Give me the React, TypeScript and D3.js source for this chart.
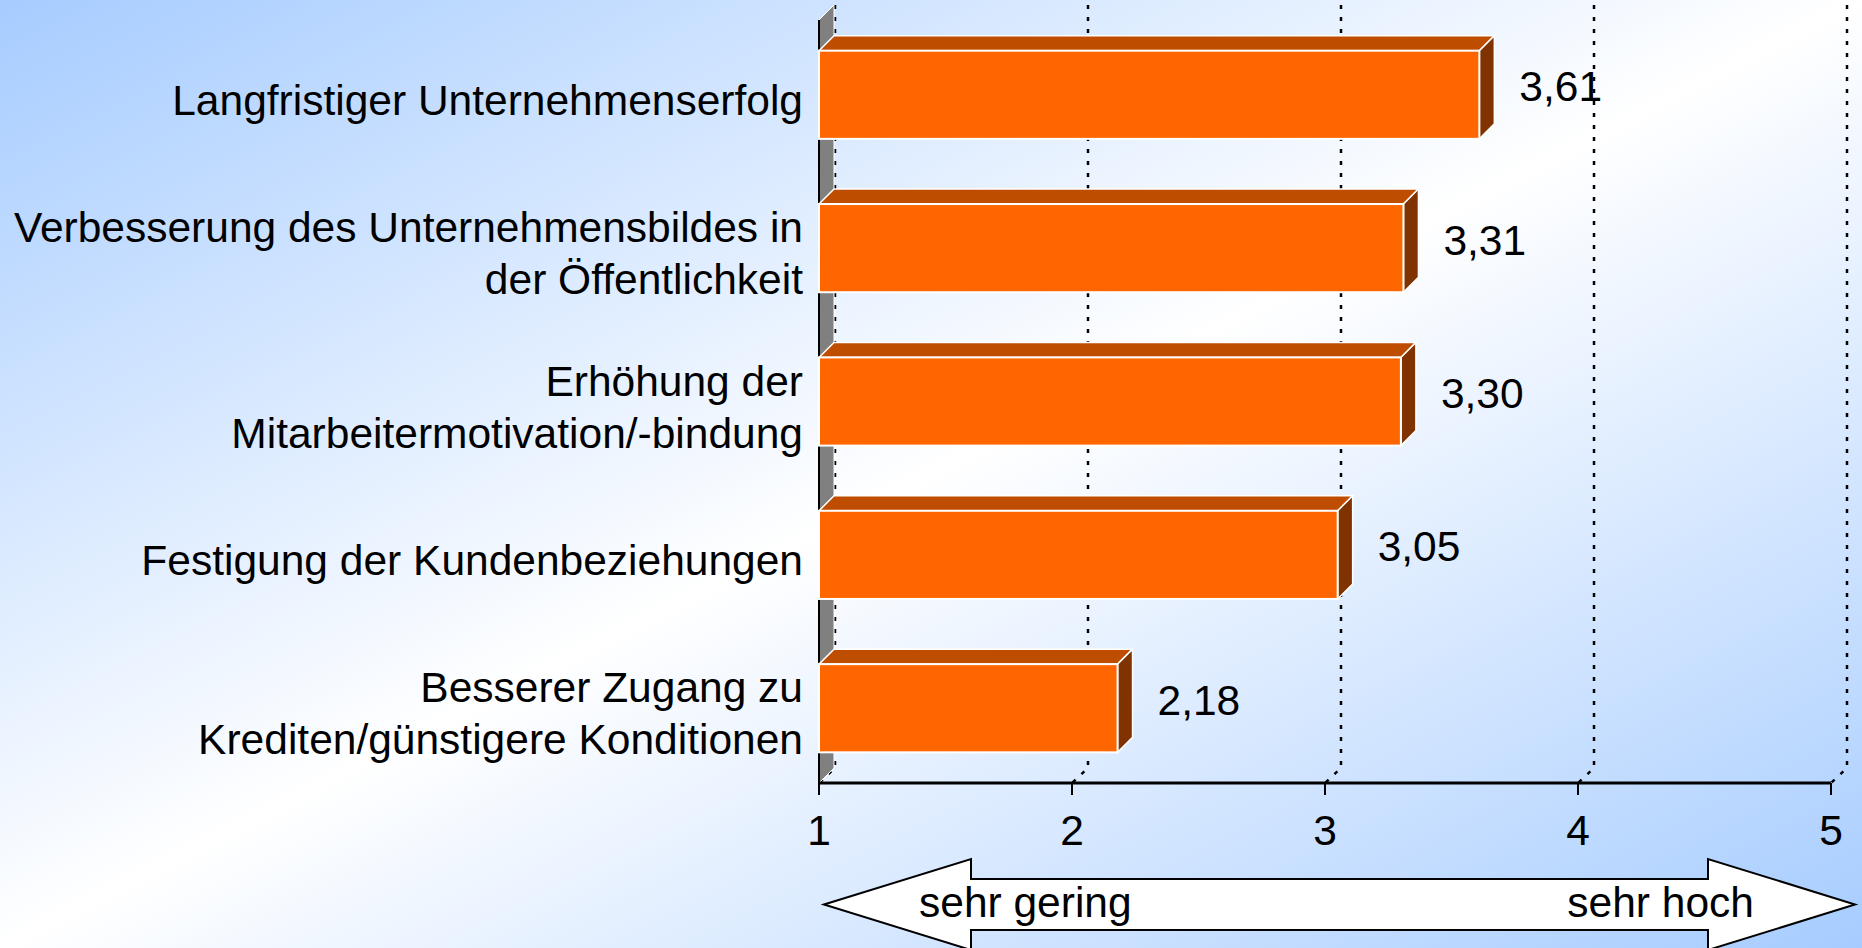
import React from "react";
import * as d3 from "d3";

// chart data
const categories = [
  "Langfristiger Unternehmenserfolg",
  "Verbesserung des Unternehmensbildes in\nder Öffentlichkeit",
  "Erhöhung der\nMitarbeitermotivation/-bindung",
  "Festigung der Kundenbeziehungen",
  "Besserer Zugang zu\nKrediten/günstigere Konditionen",
];
const values = [3.61, 3.31, 3.3, 3.05, 2.18];
const tickValues = [1, 2, 3, 4, 5];
const scaleLabels = ["sehr gering", "sehr hoch"];

const width = 1862;
const height = 948;
const margin = { top: 20, right: 31, bottom: 165, left: 819 };
const depth = 15;
const font = "'Liberation Sans', Arial, sans-serif";
const fontSize = 42.5;

const deFormat = d3.formatLocale({
  decimal: ",",
  thousands: ".",
  grouping: [3],
  currency: ["", " €"],
}).format(".2f");

const App = () => {
  const axisY = height - margin.bottom;

  const xScale = d3
    .scaleLinear()
    .domain([1, 5])
    .range([margin.left, width - margin.right]);

  const yScale = d3
    .scaleBand()
    .domain(categories)
    .range([margin.top, axisY])
    .paddingInner(0.425)
    .paddingOuter(0.2);

  const x0 = xScale(1);
  const bw = yScale.bandwidth();

  // double arrow under the axis
  const arrowY = 904.5;
  const leftTip = xScale(1) + 5;
  const leftBase = xScale(1) + 152;
  const rightBase = xScale(5) - 123;
  const rightTip = xScale(5) + 24;
  const arrowPath = d3.path();
  arrowPath.moveTo(leftTip, arrowY);
  arrowPath.lineTo(leftBase, arrowY - 45.5);
  arrowPath.lineTo(leftBase, arrowY - 25.5);
  arrowPath.lineTo(rightBase, arrowY - 25.5);
  arrowPath.lineTo(rightBase, arrowY - 45.5);
  arrowPath.lineTo(rightTip, arrowY);
  arrowPath.lineTo(rightBase, arrowY + 45.5);
  arrowPath.lineTo(rightBase, arrowY + 25.5);
  arrowPath.lineTo(leftBase, arrowY + 25.5);
  arrowPath.lineTo(leftBase, arrowY + 45.5);
  arrowPath.closePath();

  return (
    <svg
      width={width}
      height={height}
      style={{ position: "absolute", left: 0, top: 0, display: "block" }}
      fontFamily={font}
    >
      <defs>
        <linearGradient id="bg" x1="0" y1="0" x2="1" y2="1">
          <stop offset="0" stopColor="#A6CCFF" />
          <stop offset="0.5" stopColor="#FFFFFF" />
          <stop offset="1" stopColor="#A6CCFF" />
        </linearGradient>
      </defs>
      <rect x={0} y={0} width={width} height={height} fill="url(#bg)" />

      {/* dotted gridlines on the back wall */}
      {tickValues.map((t) => (
        <path
          key={"g" + t}
          d={`M${xScale(t) + depth + 1},${margin.top - depth} L${xScale(t) + depth + 1},${axisY - depth} L${xScale(t)},${axisY}`}
          fill="none"
          stroke="black"
          strokeWidth={2.5}
          strokeDasharray="4 8"
        />
      ))}

      {/* side wall */}
      <polygon
        points={`${x0},${margin.top} ${x0 + depth},${margin.top - depth} ${x0 + depth},${axisY - depth} ${x0},${axisY}`}
        fill="#808080"
        stroke="white"
        strokeWidth={1}
      />
      <line x1={x0} x2={x0} y1={margin.top} y2={axisY} stroke="black" strokeWidth={2} />

      {/* bars */}
      {categories.map((c, i) => {
        const y = yScale(c) as number;
        const x1 = xScale(values[i]);
        return (
          <g key={c}>
            <polygon
              points={`${x0},${y} ${x0 + depth},${y - depth} ${x1 + depth},${y - depth} ${x1},${y}`}
              fill="#BF4D00"
              stroke="white"
              strokeWidth={1.5}
            />
            <polygon
              points={`${x1},${y} ${x1 + depth},${y - depth} ${x1 + depth},${y + bw - depth} ${x1},${y + bw}`}
              fill="#803300"
              stroke="white"
              strokeWidth={1.5}
            />
            <rect x={x0} y={y} width={x1 - x0} height={bw} fill="#FF6600" stroke="white" strokeWidth={2} />
            <text
              x={x1 + 40}
              y={(y - depth + y + bw) / 2 + 14}
              fontSize={fontSize}
              fill="black"
            >
              {deFormat(values[i]).replace(".", ",")}
            </text>
          </g>
        );
      })}

      {/* category labels */}
      {categories.map((c) => {
        const lines = c.split("\n");
        const cy = (yScale(c) as number) + bw / 2 + 5;
        const lh = 52;
        const first = cy - ((lines.length - 1) * lh) / 2 + 15;
        return (
          <text key={"l" + c} x={803} fontSize={fontSize} textAnchor="end" fill="black">
            {lines.map((ln, j) => (
              <tspan key={j} x={803} y={first + j * lh}>
                {ln}
              </tspan>
            ))}
          </text>
        );
      })}

      {/* x axis */}
      <line x1={xScale(1)} x2={xScale(5)} y1={axisY} y2={axisY} stroke="black" strokeWidth={3} />
      {tickValues.map((t) => (
        <g key={"t" + t}>
          <line x1={xScale(t)} x2={xScale(t)} y1={axisY} y2={axisY + 12} stroke="black" strokeWidth={2} />
          <text x={xScale(t)} y={845} fontSize={fontSize} textAnchor="middle" fill="black">
            {t}
          </text>
        </g>
      ))}

      {/* scale arrow */}
      <path d={arrowPath.toString()} fill="white" stroke="black" strokeWidth={2} />
      <text x={leftBase - 52} y={917} fontSize={fontSize} fill="black">
        {scaleLabels[0]}
      </text>
      <text x={rightBase + 46} y={917} fontSize={fontSize} textAnchor="end" fill="black">
        {scaleLabels[1]}
      </text>
    </svg>
  );
};

export default App;
